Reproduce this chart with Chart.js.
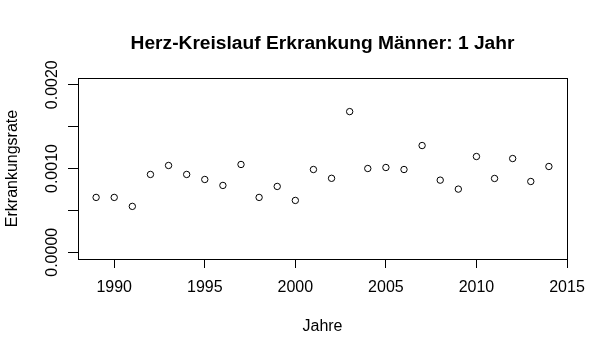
<!DOCTYPE html>
<html>
<head>
<meta charset="utf-8">
<script src="https://cdn.jsdelivr.net/npm/chart.js@4/dist/chart.umd.min.js"></script>
<style>
html,body{margin:0;padding:0;background:#fff;}
#wrap{width:608px;height:357px;}
</style>
</head>
<body>
<div id="wrap"><canvas id="c" width="608" height="357"></canvas></div>
<script>
const years = [1989,1990,1991,1992,1993,1994,1995,1996,1997,1998,1999,2000,2001,2002,2003,2004,2005,2006,2007,2008,2009,2010,2011,2012,2013,2014];
const rates = [0.000655,0.000655,0.000548,0.000929,0.001036,0.000929,0.000869,0.000798,0.001048,0.000655,0.000786,0.000619,0.000988,0.000883,0.001679,0.001000,0.001012,0.000988,0.001274,0.000861,0.000754,0.001143,0.000881,0.001119,0.000845,0.001024];
const xTicks = [1990,1995,2000,2005,2010,2015];
const yTicks = [0,0.0005,0.001,0.0015,0.002];
const yTickLabels = ["0.0000","","0.0010","","0.0020"];
const titleText = "Herz-Kreislauf Erkrankung Männer: 1 Jahr";
const xLabel = "Jahre";
const yLabel = "Erkrankungsrate";

const FONT = "'Liberation Sans', Arial, sans-serif";

const boxPlugin = {
  id: 'rbox',
  beforeDraw(chart){
    const ctx = chart.ctx;
    ctx.save();
    ctx.fillStyle = '#fff';
    ctx.fillRect(0,0,chart.width,chart.height);
    ctx.restore();
  },
  afterDraw(chart){
    const ctx = chart.ctx, a = chart.chartArea;
    ctx.save();
    ctx.strokeStyle = '#000';
    ctx.lineWidth = 1;
    ctx.strokeRect(Math.round(a.left)+0.5, Math.round(a.top)+0.5, Math.round(a.right)-Math.round(a.left), Math.round(a.bottom)-Math.round(a.top));
    // rotated y tick labels
    const ys = chart.scales.y;
    ctx.fillStyle = '#000';
    ctx.font = '16px ' + FONT;
    ctx.textAlign = 'center';
    ctx.textBaseline = 'alphabetic';
    ys.ticks.forEach((t, i) => {
      const idx = yTicks.indexOf(t.value);
      const lab = idx >= 0 ? yTickLabels[idx] : '';
      if (!lab) return;
      const py = ys.getPixelForValue(t.value);
      ctx.save();
      ctx.translate(57, py);
      ctx.rotate(-Math.PI/2);
      ctx.fillText(lab, 0, 0);
      ctx.restore();
    });
    ctx.restore();
  }
};

new Chart(document.getElementById('c'), {
  type: 'scatter',
  data: {
    datasets: [{
      data: years.map((y, i) => ({x: y, y: rates[i]})),
      pointStyle: 'circle',
      pointRadius: 3.2,
      pointHoverRadius: 3.2,
      borderColor: '#000',
      backgroundColor: 'rgba(0,0,0,0)',
      borderWidth: 1
    }]
  },
  options: {
    responsive: false,
    animation: false,
    events: [],
    layout: { padding: { left: 0, right: 41, top: 0, bottom: 0 } },
    plugins: {
      legend: { display: false },
      tooltip: { enabled: false },
      title: {
        display: true,
        text: titleText,
        fullSize: false,
        color: '#000',
        font: { family: FONT, size: 19.2, weight: 'bold', lineHeight: 1.2 },
        padding: { top: 31.8, bottom: 23.16 }
      }
    },
    scales: {
      x: {
        type: 'linear',
        min: 1988, max: 2015,
        afterBuildTicks(s){ s.ticks = xTicks.map(v => ({value: v})); },
        afterFit(s){ s.height = 98; },
        grid: { display: true, drawOnChartArea: false, drawTicks: true, tickLength: 9, color: '#000', lineWidth: 1 },
        border: { display: true, color: '#000', width: 1 },
        ticks: { color: '#000', font: { family: FONT, size: 16 }, padding: 10, maxRotation: 0, minRotation: 0, autoSkip: false, callback: v => String(v) },
        title: { display: true, text: xLabel, color: '#000', font: { family: FONT, size: 16 }, padding: { top: 0, bottom: 20.4 } }
      },
      y: {
        type: 'linear',
        min: -0.00008, max: 0.00208,
        afterBuildTicks(s){ s.ticks = yTicks.map(v => ({value: v})); },
        afterFit(s){ s.width = 78; },
        grid: { display: true, drawOnChartArea: false, drawTicks: true, tickLength: 10, color: '#000', lineWidth: 1 },
        border: { display: true, color: '#000', width: 1 },
        ticks: { display: true, color: 'rgba(0,0,0,0)', font: { family: FONT, size: 16 }, callback: () => '' },
        title: { display: true, text: yLabel, color: '#000', font: { family: FONT, size: 16 }, padding: { top: 3.4, bottom: 0 } }
      }
    }
  },
  plugins: [boxPlugin]
});
</script>
</body>
</html>
